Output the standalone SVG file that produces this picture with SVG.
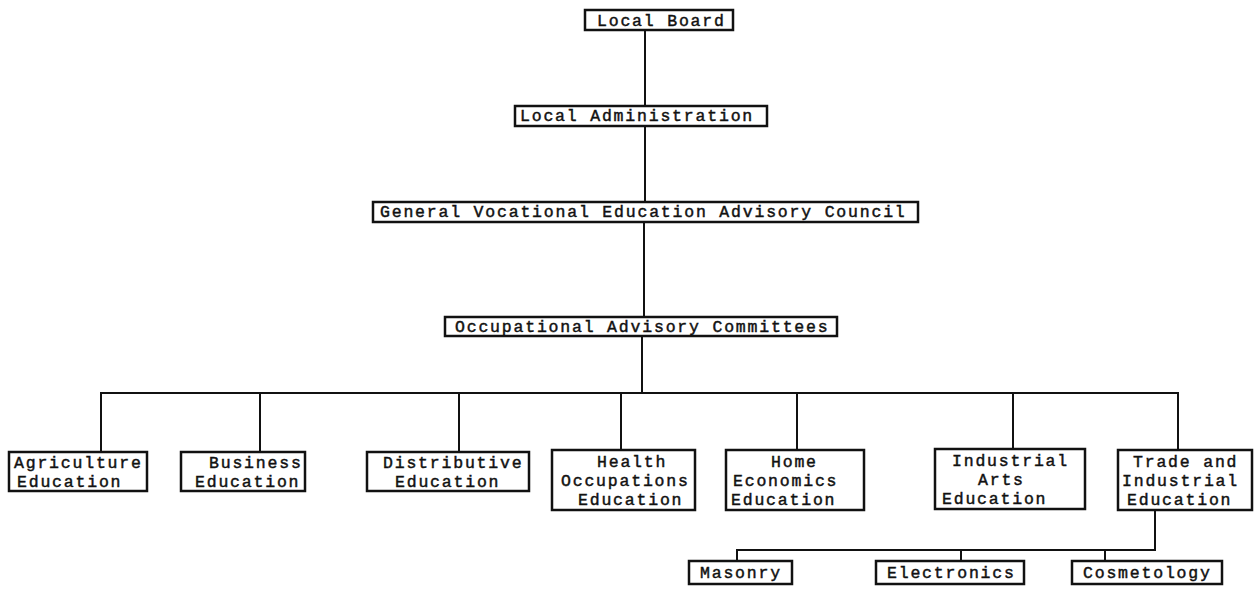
<svg xmlns="http://www.w3.org/2000/svg" width="1254" height="600" viewBox="0 0 1254 600">
<style>
.box{fill:#fff;stroke:#111;stroke-width:2.5}
.t{font-family:"Liberation Mono","DejaVu Sans Mono",monospace;font-size:16.5px;letter-spacing:1.8px;fill:#111;stroke:#111;stroke-width:0.45}
.c{fill:none;stroke:#111;stroke-width:2}
</style>
<rect width="1254" height="600" fill="#fff"/>
<g id="connectors">
<path class="c" d="M645 30V106M645 126V202M644 222V317M642 336V393"/>
<path class="c" d="M101 452V393H1178V452M260 393V452M459 393V452M621 393V452M797 393V452M1013 393V452"/>
<path class="c" d="M1155 510V550H737V561M961 550V561M1105 550V561"/>
</g>
<g id="local-board"><rect class="box" x="585" y="10" width="148" height="20"/><text class="t" x="597" y="26">Local Board</text></g>
<g id="local-administration"><rect class="box" x="515" y="106" width="252" height="20"/><text class="t" x="520" y="121">Local Administration</text></g>
<g id="general-council"><rect class="box" x="373" y="202" width="545" height="20"/><text class="t" x="380" y="217">General Vocational Education Advisory Council</text></g>
<g id="occupational-committees"><rect class="box" x="445" y="317" width="392" height="19"/><text class="t" x="455" y="332">Occupational Advisory Committees</text></g>
<g id="agriculture"><rect class="box" x="9" y="452" width="138" height="39"/><text class="t" x="14" y="468">Agriculture</text><text class="t" x="17" y="487">Education</text></g>
<g id="business"><rect class="box" x="181" y="452" width="124" height="39"/><text class="t" x="209" y="468">Business</text><text class="t" x="195" y="487">Education</text></g>
<g id="distributive"><rect class="box" x="367" y="452" width="162" height="39"/><text class="t" x="383" y="468">Distributive</text><text class="t" x="395" y="487">Education</text></g>
<g id="health"><rect class="box" x="552" y="450" width="143" height="60"/><text class="t" x="597" y="467">Health</text><text class="t" x="561" y="486">Occupations</text><text class="t" x="578" y="505">Education</text></g>
<g id="home"><rect class="box" x="726" y="450" width="138" height="60"/><text class="t" x="771" y="467">Home</text><text class="t" x="733" y="486">Economics</text><text class="t" x="731" y="505">Education</text></g>
<g id="industrial-arts"><rect class="box" x="935" y="449" width="150" height="60"/><text class="t" x="952" y="466">Industrial</text><text class="t" x="978" y="485">Arts</text><text class="t" x="942" y="504">Education</text></g>
<g id="trade-industrial"><rect class="box" x="1118" y="450" width="134" height="60"/><text class="t" x="1133" y="467">Trade and</text><text class="t" x="1122" y="486">Industrial</text><text class="t" x="1127" y="505">Education</text></g>
<g id="masonry"><rect class="box" x="689" y="561" width="103" height="23"/><text class="t" x="700" y="578">Masonry</text></g>
<g id="electronics"><rect class="box" x="876" y="561" width="148" height="23"/><text class="t" x="887" y="578">Electronics</text></g>
<g id="cosmetology"><rect class="box" x="1072" y="561" width="150" height="23"/><text class="t" x="1083" y="578">Cosmetology</text></g>
</svg>
